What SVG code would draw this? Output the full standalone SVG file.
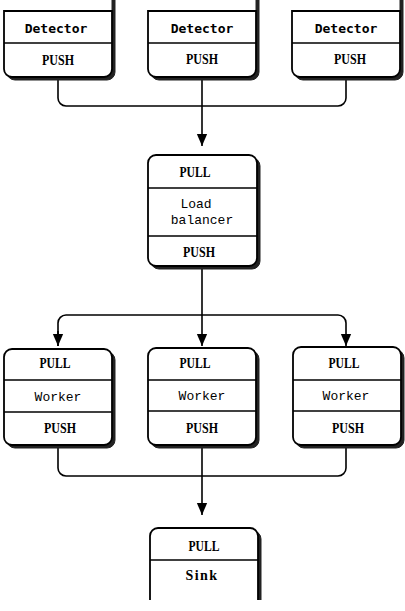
<svg xmlns="http://www.w3.org/2000/svg" width="405" height="611" viewBox="0 0 405 611">
<style>
.bx{fill:#fff;stroke:#000;stroke-width:1.8}
.sh{fill:#222;stroke:#222;stroke-width:1}
.sep{stroke:#000;stroke-width:1.5}
.t{font-family:"Liberation Mono",monospace;font-size:13px;text-anchor:middle;fill:#000}
.s{font-family:"Liberation Serif",serif;font-weight:bold;font-size:14px;text-anchor:middle;fill:#000}
.d{font-family:"DejaVu Sans Mono",monospace;font-weight:bold;font-size:13px;text-anchor:middle;fill:#000}
.c{fill:none;stroke:#000;stroke-width:1.6}
</style>
<defs>
<marker id="a" markerWidth="12" markerHeight="14" refX="14" refY="6" orient="auto" markerUnits="userSpaceOnUse" viewBox="0 0 14 12">
<path d="M0,0 L14,6 L0,12 Z" fill="#000"/>
</marker>
</defs>
<g id="connectors">
<path class="c" d="M58,77 V98 a8,8 0 0 0 8,8 H338 a8,8 0 0 0 8,-8 V77"/>
<path class="c" d="M202,77 V146" marker-end="url(#a)"/>
<path class="c" d="M202,266 V346" marker-end="url(#a)"/>
<path class="c" d="M58,346 V323 a8,8 0 0 1 8,-8 H338 a8,8 0 0 1 8,8 V346" marker-end="url(#a)"/>
<path class="c" d="M58,331 V346" marker-end="url(#a)"/>
<path class="c" d="M58,445 V468 a8,8 0 0 0 8,8 H338 a8,8 0 0 0 8,-8 V445"/>
<path class="c" d="M202,445 V515" marker-end="url(#a)"/>
</g>
<g id="detector1">
<path class="sh" d="M7,14 H112 V0 H115 V72 a8,8 0 0 1 -8,8 H15 a8,8 0 0 1 -8,-8 Z"/>
<path class="bx" d="M4,11 H112 V69 a8,8 0 0 1 -8,8 H12 a8,8 0 0 1 -8,-8 Z"/>
<line class="sep" x1="4" y1="43" x2="112" y2="43"/>
<text class="d" x="56" y="33">Detector</text>
<text class="s" x="58" y="65" textLength="32" lengthAdjust="spacingAndGlyphs">PUSH</text>
</g>
<g id="detector2">
<path class="sh" d="M151,14 H256 V0 H259 V72 a8,8 0 0 1 -8,8 H159 a8,8 0 0 1 -8,-8 Z"/>
<path class="bx" d="M148,11 H256 V69 a8,8 0 0 1 -8,8 H156 a8,8 0 0 1 -8,-8 Z"/>
<line class="sep" x1="148" y1="43" x2="256" y2="43"/>
<text class="d" x="202" y="33">Detector</text>
<text class="s" x="202" y="64" textLength="32" lengthAdjust="spacingAndGlyphs">PUSH</text>
</g>
<g id="detector3">
<path class="sh" d="M295,14 H400 V0 H403 V72 a8,8 0 0 1 -8,8 H303 a8,8 0 0 1 -8,-8 Z"/>
<path class="bx" d="M292,11 H400 V69 a8,8 0 0 1 -8,8 H300 a8,8 0 0 1 -8,-8 Z"/>
<line class="sep" x1="292" y1="43" x2="400" y2="43"/>
<text class="d" x="346" y="33">Detector</text>
<text class="s" x="350" y="64" textLength="32" lengthAdjust="spacingAndGlyphs">PUSH</text>
</g>
<g id="loadbalancer">
<rect class="sh" x="151" y="158" width="109" height="111" rx="8"/>
<rect class="bx" x="148" y="155" width="109" height="111" rx="8"/>
<line class="sep" x1="148" y1="188" x2="257" y2="188"/>
<line class="sep" x1="148" y1="236" x2="257" y2="236"/>
<text class="s" x="195" y="177" textLength="31" lengthAdjust="spacingAndGlyphs">PULL</text>
<text class="t" x="196" y="208">Load</text>
<text class="t" x="202" y="224">balancer</text>
<text class="s" x="199" y="257" textLength="32" lengthAdjust="spacingAndGlyphs">PUSH</text>
</g>
<g id="worker1">
<rect class="sh" x="7" y="352" width="108" height="96" rx="8"/>
<rect class="bx" x="4" y="349" width="108" height="96" rx="8"/>
<line class="sep" x1="4" y1="380" x2="112" y2="380"/>
<line class="sep" x1="4" y1="412" x2="112" y2="412"/>
<text class="s" x="55" y="368" textLength="31" lengthAdjust="spacingAndGlyphs">PULL</text>
<text class="t" x="58" y="401">Worker</text>
<text class="s" x="60" y="433" textLength="32" lengthAdjust="spacingAndGlyphs">PUSH</text>
</g>
<g id="worker2">
<rect class="sh" x="151" y="351" width="108" height="97" rx="8"/>
<rect class="bx" x="148" y="348" width="108" height="97" rx="8"/>
<line class="sep" x1="148" y1="380" x2="256" y2="380"/>
<line class="sep" x1="148" y1="411" x2="256" y2="411"/>
<text class="s" x="195" y="368" textLength="31" lengthAdjust="spacingAndGlyphs">PULL</text>
<text class="t" x="202" y="400">Worker</text>
<text class="s" x="202" y="433" textLength="32" lengthAdjust="spacingAndGlyphs">PUSH</text>
</g>
<g id="worker3">
<rect class="sh" x="296" y="350" width="108" height="98" rx="8"/>
<rect class="bx" x="293" y="347" width="108" height="98" rx="8"/>
<line class="sep" x1="293" y1="380" x2="401" y2="380"/>
<line class="sep" x1="293" y1="411" x2="401" y2="411"/>
<text class="s" x="344" y="368" textLength="31" lengthAdjust="spacingAndGlyphs">PULL</text>
<text class="t" x="346" y="400">Worker</text>
<text class="s" x="348" y="433" textLength="32" lengthAdjust="spacingAndGlyphs">PUSH</text>
</g>
<g id="sink">
<path class="sh" d="M159,531 H253 a8,8 0 0 1 8,8 V600 H153 V539 a8,8 0 0 1 6,-8 Z"/>
<path fill="#fff" stroke="none" d="M150,600 V536 a8,8 0 0 1 8,-8 H250 a8,8 0 0 1 8,8 V600 Z"/>
<path fill="none" stroke="#000" stroke-width="1.8" d="M150,600 V536 a8,8 0 0 1 8,-8 H250 a8,8 0 0 1 8,8 V600"/>
<rect x="140" y="600" width="130" height="11" fill="#fff"/>
<line class="sep" x1="150" y1="560" x2="258" y2="560"/>
<text class="s" x="204" y="551" textLength="31" lengthAdjust="spacingAndGlyphs">PULL</text>
<text class="s" x="202" y="580" style="letter-spacing:1.5px">Sink</text>
</g>
</svg>
